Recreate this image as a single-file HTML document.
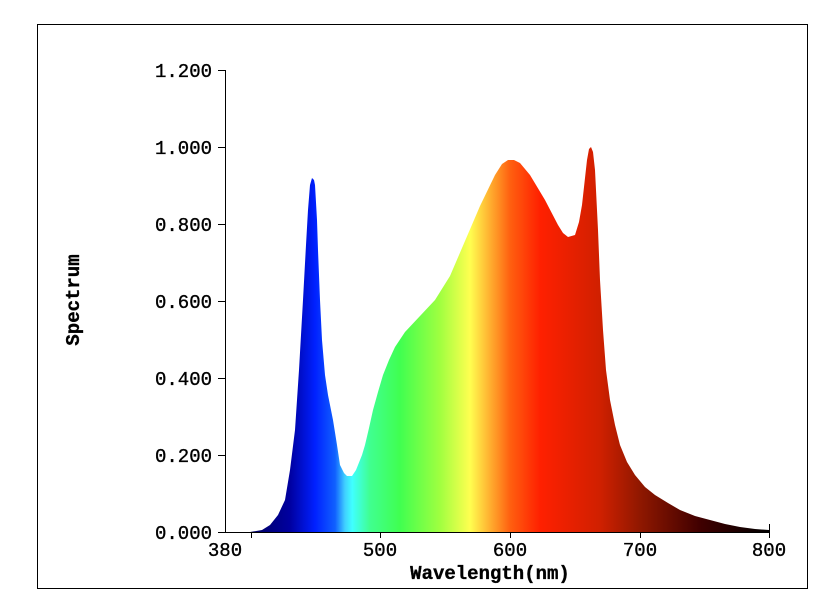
<!DOCTYPE html>
<html><head><meta charset="utf-8"><style>
body{margin:0;background:#fff;}
svg text{font-family:"Liberation Mono",monospace;font-size:19px;fill:#000;stroke:#000;stroke-width:0.35;}
</style></head><body>
<svg width="813" height="593" viewBox="0 0 813 593" xmlns="http://www.w3.org/2000/svg">
<defs>
<linearGradient id="g" gradientUnits="userSpaceOnUse" x1="250" y1="0" x2="769" y2="0">
<stop offset="0" stop-color="#000060"/>
<stop offset="0.077" stop-color="#0000a0"/>
<stop offset="0.125" stop-color="#0020ff"/>
<stop offset="0.164" stop-color="#1060ff"/>
<stop offset="0.183" stop-color="#40d0ff"/>
<stop offset="0.197" stop-color="#40ffff"/>
<stop offset="0.231" stop-color="#40ff90"/>
<stop offset="0.289" stop-color="#40ff50"/>
<stop offset="0.366" stop-color="#a0ff40"/>
<stop offset="0.424" stop-color="#ffff50"/>
<stop offset="0.462" stop-color="#ffb030"/>
<stop offset="0.501" stop-color="#ff6010"/>
<stop offset="0.559" stop-color="#ff2000"/>
<stop offset="0.674" stop-color="#d02000"/>
<stop offset="0.751" stop-color="#901800"/>
<stop offset="0.867" stop-color="#400000"/>
<stop offset="1" stop-color="#000000"/>
</linearGradient>
</defs>
<rect x="37.5" y="24.5" width="770" height="564" fill="none" stroke="#000" stroke-width="1"/>
<path fill="url(#g)" d="M250,532 L262,530 270,525 278,515 285,500 290,470 295,430 299,370 303,300 306,245 308,210 310,185 312,178 314,180 315,185 317,220 318,250 320,300 322,340 325,375 328,395 333,420 337,445 340,465 344,473 347,476 352,476 356,470 358,465 362,455 365,445 369,428 373,410 378,392 383,375 389,360 395,347 405,332 420,316 435,300 450,276 465,241 480,206 495,175 502,164 508,160 514,160 520,163 530,175 545,200 558,225 563,233 568,237 575,235 579,222 582,205 585,178 587,160 589,149 591,147 593,152 595,170 598,230 600,280 603,330 606,370 610,400 615,425 620,445 627,462 635,475 645,487 655,495 668,503 680,510 695,516 710,520 725,524 740,527 755,529 769,530 L769,532 Z"/>
<g stroke="#000" stroke-width="1" fill="none">
<line x1="225.5" y1="70" x2="225.5" y2="532"/>
<line x1="218" y1="532.5" x2="769" y2="532.5"/>
<line x1="218" y1="70.5" x2="225" y2="70.5"/>
<line x1="218" y1="147.5" x2="225" y2="147.5"/>
<line x1="218" y1="224.5" x2="225" y2="224.5"/>
<line x1="218" y1="301.5" x2="225" y2="301.5"/>
<line x1="218" y1="378.5" x2="225" y2="378.5"/>
<line x1="218" y1="455.5" x2="225" y2="455.5"/>
<line x1="251.5" y1="532" x2="251.5" y2="538"/>
<line x1="380.5" y1="532" x2="380.5" y2="538"/>
<line x1="510.5" y1="532" x2="510.5" y2="538"/>
<line x1="640.5" y1="532" x2="640.5" y2="538"/>
<line x1="769.5" y1="524" x2="769.5" y2="538"/>
</g>
<g text-anchor="end">
<text x="212" y="77">1.200</text>
<text x="212" y="154">1.000</text>
<text x="212" y="231">0.800</text>
<text x="212" y="308">0.600</text>
<text x="212" y="385">0.400</text>
<text x="212" y="462">0.200</text>
<text x="212" y="539">0.000</text>
</g>
<g text-anchor="middle">
<text x="225" y="556">380</text>
<text x="380" y="556">500</text>
<text x="510" y="556">600</text>
<text x="640" y="556">700</text>
<text x="769" y="556">800</text>
<text x="490" y="579" font-weight="bold" stroke-width="0">Wavelength(nm)</text>
<text x="0" y="0" font-weight="bold" stroke-width="0" transform="translate(79,300) rotate(-90)">Spectrum</text>
</g>
</svg>
</body></html>
